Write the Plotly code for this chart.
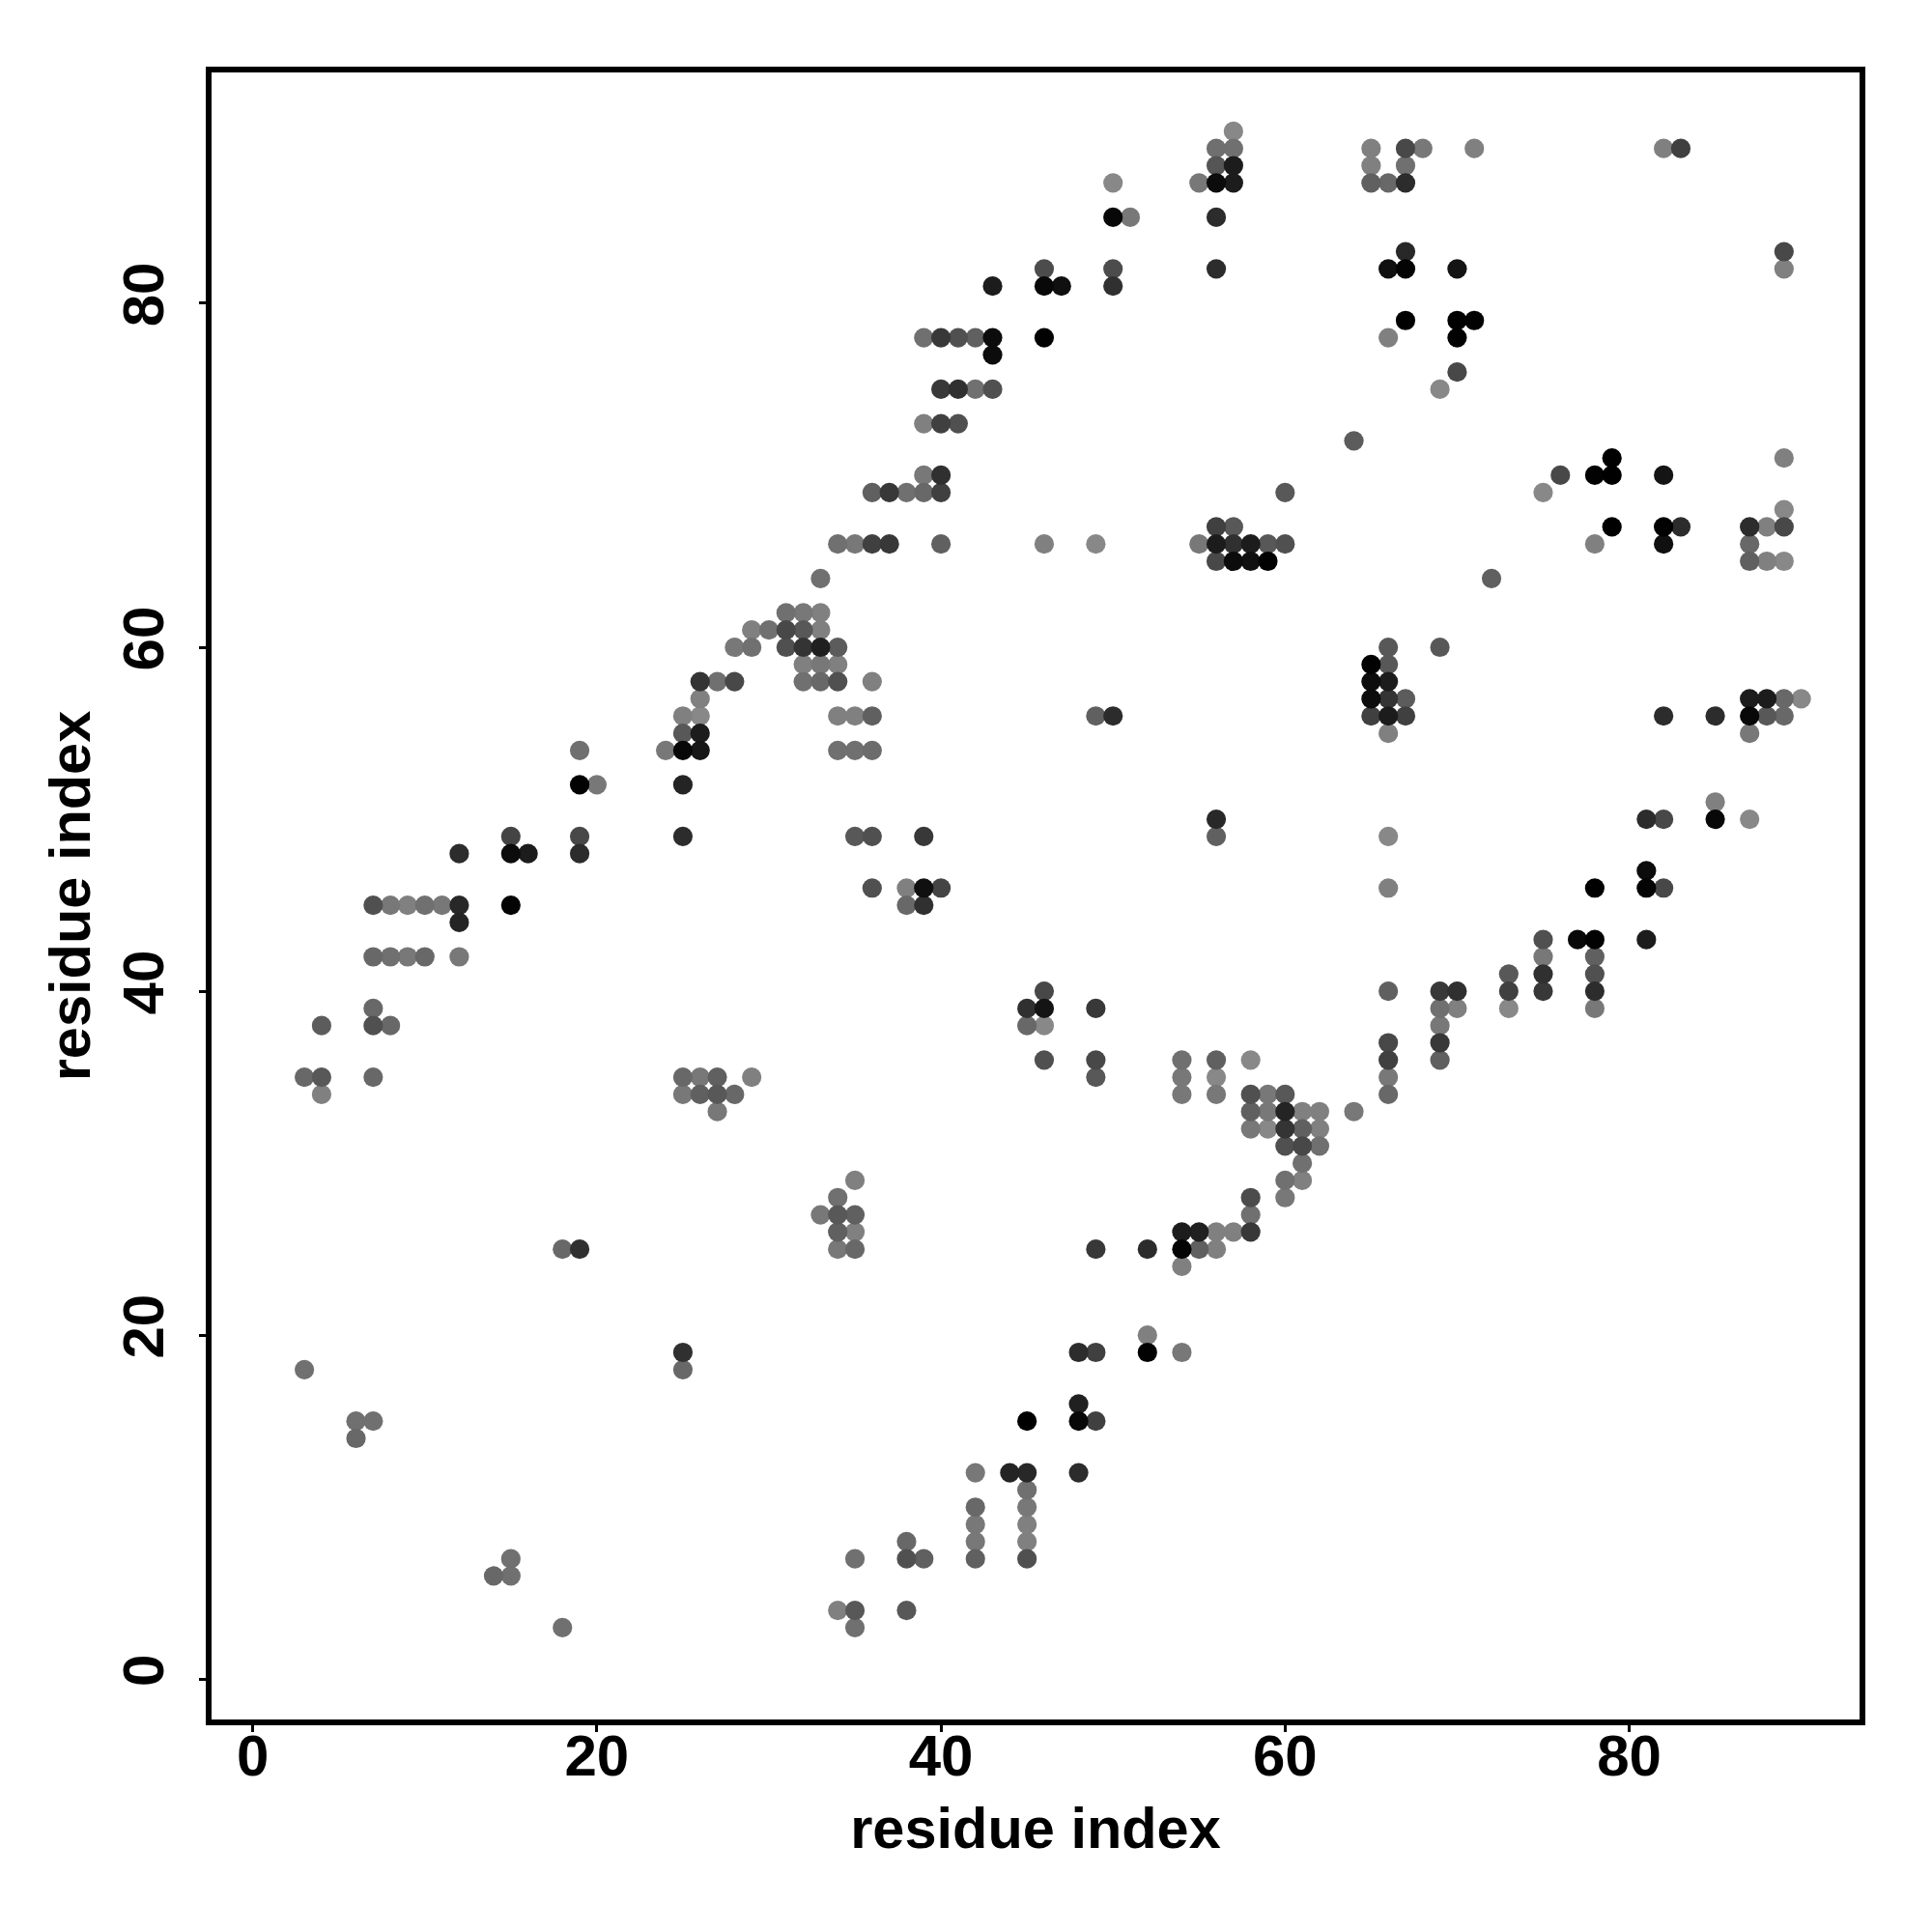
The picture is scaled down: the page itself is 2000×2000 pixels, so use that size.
import plotly.graph_objects as go

# residue j (vertical) for each row of the contact map
y_rows = [90, 89, 88, 87, 85, 83, 82, 81, 79, 78, 77, 76, 75, 73, 72, 71, 70, 69, 68, 67, 66, 65, 64,
          62, 61, 60, 59, 58, 57, 56, 55, 54, 52, 51, 50, 49, 48, 47, 46, 45, 44, 43, 42, 41, 40, 39,
          38, 37, 36, 35, 34, 33, 32, 31, 30, 29, 28, 27, 26, 25, 24, 20, 19, 18, 16, 15, 14, 12, 11,
          10, 9, 8, 7, 6, 4, 3]

# residue i of the contacts in each row
x_rows = [
    [57],
    [56, 57, 65, 67, 68, 71, 82, 83],
    [56, 57, 65, 67],
    [50, 55, 56, 57, 65, 66, 67],
    [50, 51, 56],
    [67, 89],
    [46, 50, 56, 66, 67, 70, 89],
    [43, 46, 47, 50],
    [67, 70, 71],
    [39, 40, 41, 42, 43, 46, 66, 70],
    [43],
    [70],
    [40, 41, 42, 43, 69],
    [39, 40, 41],
    [64],
    [79, 89],
    [39, 40, 76, 78, 79, 82],
    [36, 37, 38, 39, 40, 60, 75],
    [89],
    [56, 57, 79, 82, 83, 87, 88, 89],
    [34, 35, 36, 37, 40, 46, 49, 55, 56, 57, 58, 59, 60, 78, 82, 87],
    [56, 57, 58, 59, 87, 88, 89],
    [33, 72],
    [31, 32, 33],
    [29, 30, 31, 32, 33],
    [28, 29, 31, 32, 33, 34, 66, 69],
    [32, 33, 34, 65, 66],
    [26, 27, 28, 32, 33, 34, 36, 65, 66],
    [26, 65, 66, 67, 87, 88, 89, 90],
    [25, 26, 34, 35, 36, 49, 50, 65, 66, 67, 82, 85, 87, 88, 89],
    [25, 26, 66, 87],
    [19, 24, 25, 26, 34, 35, 36],
    [19, 20, 25],
    [85],
    [56, 81, 82, 85, 87],
    [15, 19, 25, 35, 36, 39, 56, 66],
    [12, 15, 16, 19],
    [81],
    [36, 38, 39, 40, 66, 78, 81, 82],
    [7, 8, 9, 10, 11, 12, 15, 38, 39],
    [12],
    [75, 77, 78, 81],
    [7, 8, 9, 10, 12, 75, 78],
    [73, 75, 78],
    [46, 66, 69, 70, 73, 75, 78],
    [7, 45, 46, 49, 69, 70, 73, 78],
    [4, 7, 8, 45, 46, 69],
    [66, 69],
    [46, 49, 54, 56, 58, 66, 69],
    [3, 4, 7, 25, 26, 27, 29, 49, 54, 56, 66],
    [4, 25, 26, 27, 28, 54, 56, 58, 59, 60, 66],
    [27, 58, 59, 60, 61, 62, 64],
    [58, 59, 60, 61, 62],
    [60, 61, 62],
    [61],
    [35, 60, 61],
    [34, 58, 60],
    [33, 34, 35, 58],
    [34, 35, 54, 55, 56, 57, 58],
    [18, 19, 34, 35, 49, 52, 54, 55, 56],
    [54],
    [52],
    [25, 48, 49, 52, 54],
    [3, 25],
    [48],
    [6, 7, 45, 48, 49],
    [6],
    [42, 44, 45, 48],
    [45],
    [42, 45],
    [42, 45],
    [38, 42, 45],
    [15, 35, 38, 39, 42, 45],
    [14, 15],
    [34, 35, 38],
    [18, 35],
]

# darkness level of each contact (0 black, 255 white)
level_rows = [
    [0x88],
    [0x6f, 0x70, 0x80, 0x48, 0x78, 0x80, 0x80, 0x40],
    [0x55, 0x1c, 0x80, 0x70],
    [0x88, 0x78, 0x0c, 0x1c, 0x60, 0x68, 0x2c],
    [0x08, 0x78, 0x2c],
    [0x28, 0x48],
    [0x4c, 0x4c, 0x2c, 0x10, 0x04, 0x14, 0x80],
    [0x1c, 0x08, 0x10, 0x30],
    [0x00, 0x00, 0x02],
    [0x70, 0x38, 0x50, 0x60, 0x0c, 0x02, 0x80, 0x02],
    [0x0c],
    [0x48],
    [0x38, 0x30, 0x70, 0x50, 0x88],
    [0x80, 0x40, 0x50],
    [0x5c],
    [0x00, 0x80],
    [0x78, 0x30, 0x48, 0x02, 0x00, 0x14],
    [0x60, 0x38, 0x70, 0x68, 0x40, 0x58, 0x88],
    [0x88],
    [0x40, 0x58, 0x00, 0x02, 0x2c, 0x2c, 0x80, 0x48],
    [0x70, 0x78, 0x40, 0x38, 0x60, 0x80, 0x88, 0x78, 0x1c, 0x30, 0x1c, 0x58, 0x50, 0x80, 0x10, 0x68],
    [0x48, 0x0c, 0x10, 0x02, 0x60, 0x80, 0x88],
    [0x70, 0x60],
    [0x70, 0x78, 0x80],
    [0x80, 0x70, 0x48, 0x58, 0x80],
    [0x78, 0x70, 0x50, 0x34, 0x20, 0x5c, 0x58, 0x58],
    [0x80, 0x78, 0x80, 0x02, 0x58],
    [0x34, 0x70, 0x48, 0x70, 0x68, 0x50, 0x80, 0x0c, 0x1c],
    [0x80, 0x0c, 0x34, 0x5c, 0x1c, 0x1c, 0x68, 0x88],
    [0x80, 0x88, 0x80, 0x80, 0x60, 0x60, 0x2c, 0x40, 0x1c, 0x40, 0x2c, 0x2c, 0x08, 0x58, 0x68],
    [0x58, 0x1c, 0x80, 0x78],
    [0x70, 0x78, 0x08, 0x18, 0x70, 0x70, 0x6c],
    [0x02, 0x78, 0x24],
    [0x80],
    [0x28, 0x2c, 0x48, 0x08, 0x88],
    [0x44, 0x48, 0x2c, 0x58, 0x50, 0x38, 0x60, 0x88],
    [0x2c, 0x0c, 0x1c, 0x2c],
    [0x0c],
    [0x50, 0x80, 0x10, 0x44, 0x80, 0x00, 0x04, 0x48],
    [0x50, 0x78, 0x80, 0x70, 0x78, 0x28, 0x04, 0x68, 0x30],
    [0x24],
    [0x50, 0x08, 0x02, 0x1c],
    [0x68, 0x70, 0x78, 0x68, 0x78, 0x78, 0x60],
    [0x58, 0x30, 0x50],
    [0x48, 0x60, 0x38, 0x30, 0x40, 0x38, 0x2c],
    [0x68, 0x30, 0x14, 0x38, 0x70, 0x80, 0x88, 0x78],
    [0x5c, 0x50, 0x68, 0x68, 0x88, 0x78],
    [0x48, 0x38],
    [0x50, 0x48, 0x70, 0x60, 0x88, 0x40, 0x60],
    [0x68, 0x58, 0x68, 0x68, 0x78, 0x60, 0x80, 0x58, 0x78, 0x88, 0x78],
    [0x80, 0x78, 0x60, 0x58, 0x68, 0x78, 0x78, 0x50, 0x78, 0x58, 0x68],
    [0x78, 0x60, 0x78, 0x24, 0x80, 0x80, 0x78],
    [0x78, 0x88, 0x34, 0x60, 0x80],
    [0x50, 0x48, 0x70],
    [0x70],
    [0x80, 0x70, 0x80],
    [0x70, 0x4c, 0x78],
    [0x78, 0x58, 0x60, 0x70],
    [0x60, 0x80, 0x1c, 0x20, 0x80, 0x80, 0x38],
    [0x68, 0x30, 0x78, 0x68, 0x38, 0x2c, 0x04, 0x60, 0x80],
    [0x80],
    [0x80],
    [0x30, 0x2c, 0x40, 0x02, 0x78],
    [0x70, 0x68],
    [0x20],
    [0x70, 0x70, 0x00, 0x08, 0x40],
    [0x68],
    [0x78, 0x24, 0x28, 0x2c],
    [0x70],
    [0x68, 0x78],
    [0x78, 0x80],
    [0x68, 0x78, 0x80],
    [0x70, 0x70, 0x50, 0x60, 0x60, 0x50],
    [0x68, 0x70],
    [0x80, 0x58, 0x58],
    [0x70, 0x70],
]

x_ticks = [0, 20, 40, 60, 80]
y_ticks = [0, 20, 40, 60, 80]
x_title = "residue index"
y_title = "residue index"

# flatten, paint the darker contacts last
points = []
for y, xs, ls in zip(y_rows, x_rows, level_rows):
    for x, l in zip(xs, ls):
        points.append((l, x, y))
points.sort(key=lambda p: -p[0])

fig = go.Figure(go.Scatter(
    x=[p[1] for p in points],
    y=[p[2] for p in points],
    mode="markers",
    marker=dict(
        size=20.2,
        color=[p[0] for p in points],
        cmin=0, cmax=255,
        colorscale=[[0, "#000000"], [1, "#ffffff"]],
        showscale=False,
        line=dict(width=0),
    ),
    showlegend=False,
))

FONT = "Liberation Sans"
axis_common = dict(
    showgrid=False, zeroline=False,
    showline=True, mirror=True, linecolor="black", linewidth=6,
    ticks="outside", ticklen=7, tickwidth=3, tickcolor="black",
    tickfont=dict(family=FONT, size=60, color="black", weight="bold"),
    automargin=False,
)

fig.update_layout(
    width=2000, height=2000, autosize=False,
    paper_bgcolor="white", plot_bgcolor="white",
    margin=dict(l=211, r=83, t=67, b=228),
    xaxis=dict(range=[-2.395, 93.39], tickvals=x_ticks, tickangle=0, ticklabelstandoff=-27,
               title=dict(text=f"<b>{x_title}</b>", standoff=23,
                          font=dict(family=FONT, size=59.5, color="black")),
               **axis_common),
    yaxis=dict(range=[-2.344, 93.42], tickvals=y_ticks, tickangle=-90, ticklabelstandoff=13,
               title=dict(text=f"<b>{y_title}</b>", standoff=4,
                          font=dict(family=FONT, size=59.5, color="black")),
               **axis_common),
)
fig.write_html("out.html")
